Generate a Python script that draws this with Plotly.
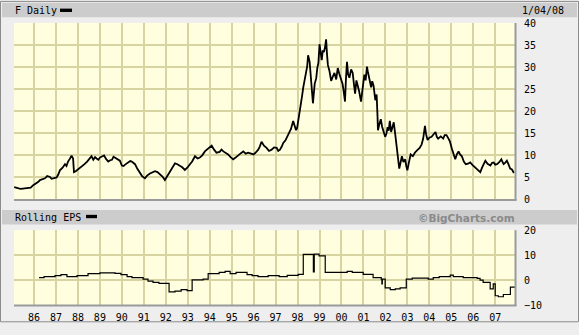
import plotly.graph_objects as go

# ---- data ----
price_t = [1985.10, 1985.20, 1985.30, 1985.40, 1985.50, 1985.60, 1985.75, 1985.85, 1985.95, 1986.10,
           1986.20, 1986.27, 1986.38, 1986.50, 1986.60, 1986.73, 1986.80, 1986.90, 1987.03, 1987.10,
           1987.18, 1987.30, 1987.41, 1987.48, 1987.55, 1987.63, 1987.71, 1987.78, 1987.82, 1987.90,
           1988.00, 1988.09, 1988.20, 1988.30, 1988.42, 1988.55, 1988.62, 1988.70, 1988.78, 1988.85,
           1988.93, 1989.00, 1989.10, 1989.19, 1989.28, 1989.38, 1989.47, 1989.55, 1989.62, 1989.69,
           1989.80, 1989.91, 1990.00, 1990.08, 1990.15, 1990.22, 1990.29, 1990.38, 1990.45, 1990.53,
           1990.60, 1990.70, 1990.82, 1990.92, 1991.05, 1991.15, 1991.28, 1991.40, 1991.51, 1991.62,
           1991.73, 1991.85, 1991.96, 1992.05, 1992.19, 1992.30, 1992.42, 1992.53, 1992.64, 1992.75,
           1992.87, 1992.98, 1993.10, 1993.20, 1993.33, 1993.45, 1993.55, 1993.66, 1993.78, 1993.90,
           1994.09, 1994.20, 1994.31, 1994.45, 1994.54, 1994.62, 1994.72, 1994.84, 1994.95, 1995.07,
           1995.18, 1995.30, 1995.42, 1995.53, 1995.64, 1995.75, 1995.88, 1996.00, 1996.10, 1996.21,
           1996.28, 1996.36, 1996.47, 1996.59, 1996.70, 1996.82, 1996.93, 1997.05, 1997.12, 1997.20,
           1997.28, 1997.35, 1997.45, 1997.58, 1997.70, 1997.80, 1997.87, 1997.93, 1997.98, 1998.03,
           1998.10, 1998.15, 1998.21, 1998.26, 1998.32, 1998.38, 1998.44, 1998.48, 1998.55, 1998.63,
           1998.70, 1998.78, 1998.85, 1998.90, 1998.95, 1999.00, 1999.05, 1999.10, 1999.15, 1999.20,
           1999.25, 1999.30, 1999.34, 1999.38, 1999.45, 1999.53, 1999.60, 1999.68, 1999.76, 1999.83,
           1999.90, 1999.95, 2000.05, 2000.10, 2000.16, 2000.20, 2000.25, 2000.30, 2000.36, 2000.44,
           2000.51, 2000.57, 2000.62, 2000.68, 2000.73, 2000.80, 2000.89, 2000.97, 2001.04, 2001.10,
           2001.16, 2001.20, 2001.24, 2001.30, 2001.35, 2001.40, 2001.46, 2001.54, 2001.60, 2001.64,
           2001.66, 2001.72, 2001.79, 2001.85, 2001.90, 2001.99, 2002.05, 2002.10, 2002.15, 2002.20,
           2002.26, 2002.32, 2002.38, 2002.43, 2002.50, 2002.55, 2002.60, 2002.63, 2002.70, 2002.75,
           2002.82, 2002.90, 2002.95, 2003.00, 2003.07, 2003.15, 2003.25, 2003.34, 2003.45, 2003.56,
           2003.65, 2003.72, 2003.80, 2003.85, 2003.92, 2004.00, 2004.10, 2004.20, 2004.28, 2004.34,
           2004.40, 2004.52, 2004.63, 2004.70, 2004.78, 2004.86, 2004.94, 2005.02, 2005.10, 2005.18,
           2005.25, 2005.33, 2005.40, 2005.48, 2005.57, 2005.66, 2005.76, 2005.86, 2005.97, 2006.09,
           2006.20, 2006.32, 2006.40, 2006.47, 2006.55, 2006.65, 2006.78, 2006.86, 2006.93, 2007.00,
           2007.08, 2007.17, 2007.28, 2007.33, 2007.38, 2007.45, 2007.53, 2007.60, 2007.68, 2007.76,
           2007.85]
price_v = [2.8, 2.6, 2.5, 2.4, 2.5, 2.6, 2.6, 2.7, 3.2, 3.6,
           4.0, 4.4, 4.6, 4.8, 5.3, 5.1, 4.7, 4.9, 5.0, 5.6,
           6.6, 7.2, 8.0, 7.6, 8.6, 9.2, 9.9, 9.3, 6.2, 6.4,
           6.8, 7.0, 7.6, 8.0, 8.6, 9.5, 9.8, 9.0, 9.6, 9.3,
           9.0, 9.5, 9.8, 10.0, 9.2, 8.6, 8.9, 9.0, 9.7, 9.5,
           9.1, 8.8, 7.7, 7.6, 7.9, 8.2, 8.4, 8.7, 8.6, 8.3,
           8.0, 7.0, 5.9, 5.3, 4.8, 5.4, 5.9, 6.1, 6.4, 6.2,
           5.7, 5.2, 4.4, 5.2, 6.2, 7.2, 8.2, 8.0, 7.7, 7.3,
           6.7, 7.2, 8.0, 8.6, 9.8, 9.3, 9.5, 10.0, 10.9, 11.4,
           12.2, 11.3, 10.6, 10.8, 11.3, 10.9, 10.6, 10.2, 9.6, 9.1,
           9.5, 9.9, 10.5, 10.9, 10.4, 10.6, 10.3, 10.2, 10.7, 11.3,
           12.0, 13.1, 12.2, 11.7, 11.0, 11.3, 11.8, 11.7, 11.0, 11.3,
           12.0, 12.8, 13.4, 14.9, 16.0, 17.8, 16.9, 15.7, 16.2, 17.8,
           19.0, 21.0, 23.6, 25.4, 26.9, 29.1, 30.2, 32.7, 31.2, 26.2,
           21.8, 26.2, 27.5, 29.8, 31.0, 35.2, 33.0, 31.6, 33.8, 33.4,
           34.5, 36.3, 33.0, 30.5, 29.2, 26.9, 27.8, 28.7, 27.2, 29.8,
           28.5, 27.6, 26.2, 24.5, 22.2, 27.0, 31.2, 28.4, 27.6, 29.5,
           28.7, 26.0, 24.0, 27.0, 26.2, 24.6, 22.2, 25.0, 28.3, 27.0,
           30.1, 29.0, 28.0, 26.5, 25.4, 26.8, 25.8, 22.5, 23.8, 18.9,
           15.7, 17.0, 18.2, 16.5, 15.7, 14.2, 15.0, 16.4, 15.6, 17.8,
           15.3, 16.8, 17.5, 15.5, 12.0, 10.0, 8.0, 7.0, 8.6, 9.8,
           8.5, 9.1, 7.6, 6.6, 8.4, 10.2, 9.8, 10.6, 11.2, 11.7,
           12.5, 13.8, 16.7, 14.8, 13.5, 14.0, 14.2, 14.8, 15.3, 14.2,
           13.8, 14.3, 13.8, 14.6, 14.6, 13.9, 13.1, 11.6, 10.2, 9.1,
           10.2, 10.9, 10.2, 9.8, 8.6, 8.0, 8.1, 8.4, 7.8, 7.3,
           6.9, 6.2, 7.2, 8.0, 8.8, 8.1, 7.7, 8.3, 8.4, 7.9,
           8.0, 8.4, 9.1, 8.5, 8.0, 8.3, 8.8, 8.0, 7.0, 6.8,
           6.0]

eps_t = [1986.23, 1986.46, 1986.96, 1987.23, 1987.50, 1987.96, 1988.46, 1989.00, 1989.69, 1989.96,
         1990.24, 1990.46, 1990.97, 1991.19, 1991.42, 1991.69, 1992.15, 1992.42, 1992.70, 1992.97,
         1993.20, 1993.70, 1993.93, 1994.43, 1994.70, 1994.93, 1995.20, 1995.70, 1995.93, 1996.20,
         1996.66, 1997.16, 1997.53, 1998.03, 1998.26, 1998.72, 1998.76, 1998.98, 1999.26, 2000.26,
         2000.49, 2000.99, 2001.44, 2001.81, 2001.84, 2001.86, 2001.99, 2002.22, 2002.45, 2002.67,
         2002.95, 2003.22, 2003.95, 2004.18, 2004.45, 2004.95, 2005.09, 2005.54, 2006.18, 2006.31,
         2006.45, 2006.77, 2006.91, 2007.00, 2007.14, 2007.37, 2007.69, 2007.91]
eps_v = [1.0, 1.4, 1.8, 2.2, 1.4, 1.8, 2.6, 2.9, 2.7, 2.2,
         1.4, 1.0, 0.4, -0.4, -0.9, -1.3, -4.7, -4.4, -3.8, -4.2,
         0.1, 0.4, 2.6, 3.1, 3.5, 2.6, 3.1, 2.2, 1.8, 1.4,
         1.8, 1.4, 1.9, 2.3, 10.3, 3.3, 10.4, 9.7, 3.1, 3.5,
         3.1, 2.3, 1.0, 0.4, -1.5, 0.4, -3.1, -3.8, -3.5, -3.1,
         0.4, 0.8, 0.4, 1.0, 1.4, 2.0, 1.4, 1.0, 0.7, 0.0,
         -0.9, -3.5, -1.5, -6.3, -6.7, -5.8, -2.8, -2.8]

year_ticks = list(range(1986, 2008))
year_labels = ["%02d" % (y % 100) for y in year_ticks]
price_ticks = [0, 5, 10, 15, 20, 25, 30, 35, 40]
eps_ticks = [-10, 0, 10, 20]

# ---- geometry ----
W, H = 579, 335
L, R, T, B = 14, 515, 23, 317
def px(x):
    return (x - L) / (R - L)
def py(y):
    return (B - y) / (B - T)

X_RANGE = [1985.09, 2007.9]
GRID = "#D8D4A2"
BG = "#FFFFE0"
FONT = "DejaVu Sans Mono"

fig = go.Figure()
fig.add_trace(go.Scatter(x=price_t, y=price_v, mode="lines",
                         line=dict(color="black", width=1.8), xaxis="x", yaxis="y",
                         showlegend=False, hoverinfo="skip"))
fig.add_trace(go.Scatter(x=eps_t, y=eps_v, mode="lines", line_shape="hv",
                         line=dict(color="black", width=1.2), xaxis="x2", yaxis="y2",
                         showlegend=False, hoverinfo="skip"))

axis_common = dict(showgrid=True, gridcolor=GRID, gridwidth=1.5, zeroline=False,
                   showline=False, tickfont=dict(family=FONT, size=10, color="black"))

fig.update_layout(
    width=W, height=H,
    margin=dict(l=L, r=W - R, t=T, b=H - B),
    paper_bgcolor="#EEEEEE", plot_bgcolor=BG,
    xaxis=dict(domain=[0, 1], anchor="y", range=X_RANGE, tickvals=year_ticks,
               showticklabels=False, **axis_common),
    yaxis=dict(domain=[py(207), 1], anchor="x", range=[0, 40], tickvals=price_ticks,
               side="right", ticklabelstandoff=8, **axis_common),
    xaxis2=dict(domain=[0, 1], anchor="y2", range=X_RANGE, tickvals=year_ticks,
                ticktext=year_labels, ticks="", ticklabelstandoff=5, **axis_common),
    yaxis2=dict(domain=[0, py(239)], anchor="x2", range=[-10, 20], tickvals=eps_ticks,
                side="right", ticklabelstandoff=8, **axis_common),
)

shapes = []
# outer frame
shapes.append(dict(type="rect", xref="paper", yref="paper", x0=px(0.5), x1=px(578.5),
                   y0=py(334.5), y1=py(0.5), line=dict(color="#8C8C8C", width=1),
                   fillcolor="rgba(0,0,0,0)", layer="above"))
# header bars
for y0, y1 in [(2, 17), (218, 233)]:
    shapes.append(dict(type="rect", xref="paper", yref="paper", x0=px(2), x1=px(577),
                       y0=py(y1), y1=py(y0), line=dict(width=0), fillcolor="#CCCCCC",
                       layer="above"))
# legend swatches
for x0, x1, y0, y1 in [(60, 72, 8, 11.5), (86, 97, 223, 226.5)]:
    shapes.append(dict(type="rect", xref="paper", yref="paper", x0=px(x0), x1=px(x1),
                       y0=py(y1), y1=py(y0), line=dict(width=0), fillcolor="black",
                       layer="above"))
# plot shadows (right and bottom borders)
for top, bot in [(23, 207), (239, 317)]:
    shapes.append(dict(type="line", xref="paper", yref="paper", x0=px(515.5), x1=px(515.5),
                       y0=py(bot + 1), y1=py(top), line=dict(color="#9A9A9A", width=2),
                       layer="above"))
    shapes.append(dict(type="line", xref="paper", yref="paper", x0=px(14), x1=px(516.5),
                       y0=py(bot + 0.5), y1=py(bot + 0.5), line=dict(color="#9A9A9A", width=2),
                       layer="above"))
fig.update_layout(shapes=shapes)

ann = []
def text(s, x, y, anchor, **font):
    f = dict(family=FONT, size=10, color="black")
    f.update(font)
    ann.append(dict(text=s, xref="paper", yref="paper", x=px(x), y=py(y), xanchor=anchor,
                    yanchor="middle", showarrow=False, font=f))
text("F Daily", 13, 10, "left")
text("1/04/08", 566, 10, "right")
text("Rolling EPS", 13, 226, "left")
text("<b>©BigCharts.com</b>", 517, 226, "right", family="DejaVu Sans", size=10.5, color="#8A8A8A")
fig.update_layout(annotations=ann)

fig.write_html("out.html", config={"displayModeBar": False},
               post_script="document.body.style.margin='0';document.body.style.padding='0';")
